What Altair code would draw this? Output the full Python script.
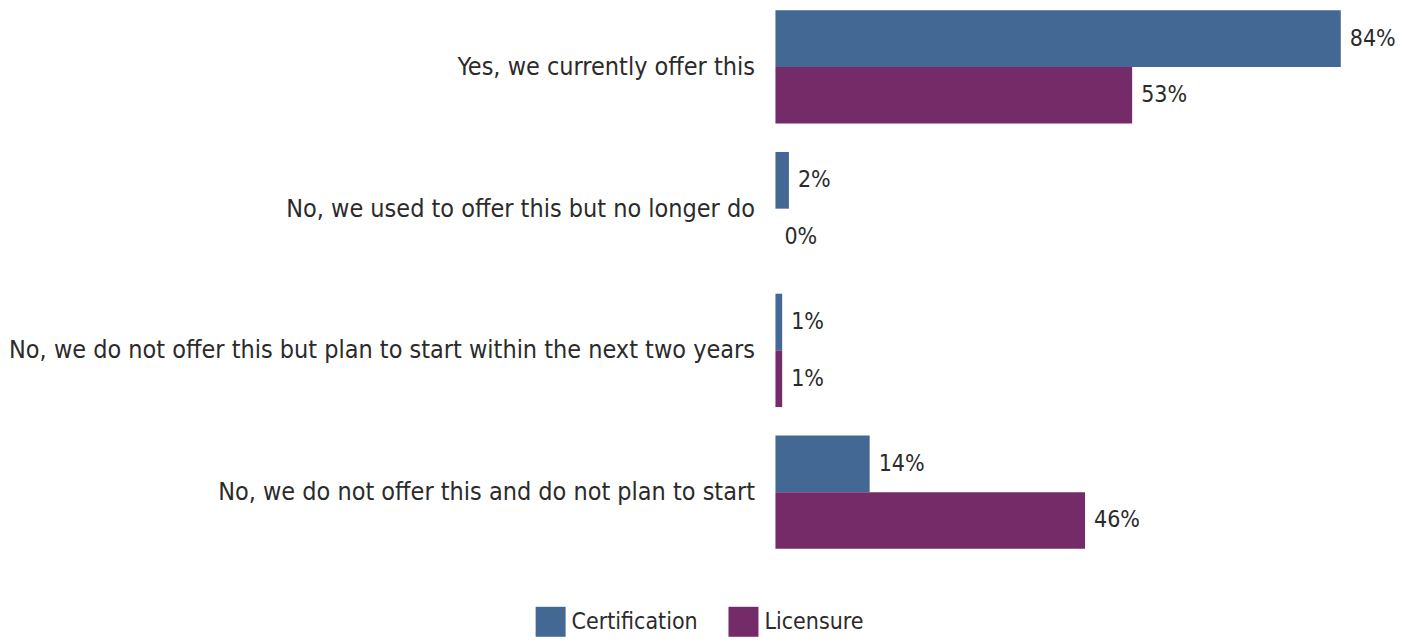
import altair as alt
import pandas as pd

categories = [
    "Yes, we currently offer this",
    "No, we used to offer this but no longer do",
    "No, we do not offer this but plan to start within the next two years",
    "No, we do not offer this and do not plan to start",
]
series = ["Certification", "Licensure"]
certification = [84, 2, 1, 14]
licensure = [53, 0, 1, 46]
colors = ["#436893", "#752b67"]

rows = []
for i, c in enumerate(categories):
    rows.append({"category": c, "series": "Certification", "value": certification[i],
                 "label": f"{certification[i]}%"})
    rows.append({"category": c, "series": "Licensure", "value": licensure[i],
                 "label": f"{licensure[i]}%"})
df = pd.DataFrame(rows)

FONT = "DejaVu Sans Condensed, sans-serif"

y = alt.Y("category:N", sort=categories, title=None,
          scale=alt.Scale(paddingInner=0.2, paddingOuter=0),
          axis=alt.Axis(ticks=False, domain=False, labelFontSize=25, labelFont=FONT,
                        labelColor="#2b2b2b", labelPadding=21, labelLimit=1000,
                        minExtent=747, maxExtent=747))
yoff = alt.YOffset("series:N", sort=series)
x = alt.X("value:Q", scale=alt.Scale(domain=[0, 87.6]), axis=None)

bars = alt.Chart(df).mark_bar().encode(
    x=x, y=y, yOffset=yoff,
    color=alt.Color("series:N", sort=series,
                    scale=alt.Scale(domain=series, range=colors),
                    legend=alt.Legend(title=None, orient="none", direction="horizontal",
                                      legendX=-240, legendY=597, padding=0,
                                      symbolType="square", symbolSize=900,
                                      symbolStrokeWidth=0, labelFontSize=23,
                                      labelFont=FONT, labelColor="#2b2b2b",
                                      labelOffset=6, columnPadding=30)),
)

text = alt.Chart(df).mark_text(align="left", baseline="middle", dx=9, fontSize=23,
                               font=FONT, color="#2b2b2b").encode(
    x=x, y=y, yOffset=yoff, text="label:N")

chart = (bars + text).properties(
    width=590, height=539,
    padding={"left": 0, "top": 2, "right": 0, "bottom": 0},
).configure_view(stroke=None)

chart.save("out.html", embed_options={"renderer": "svg", "actions": False})
